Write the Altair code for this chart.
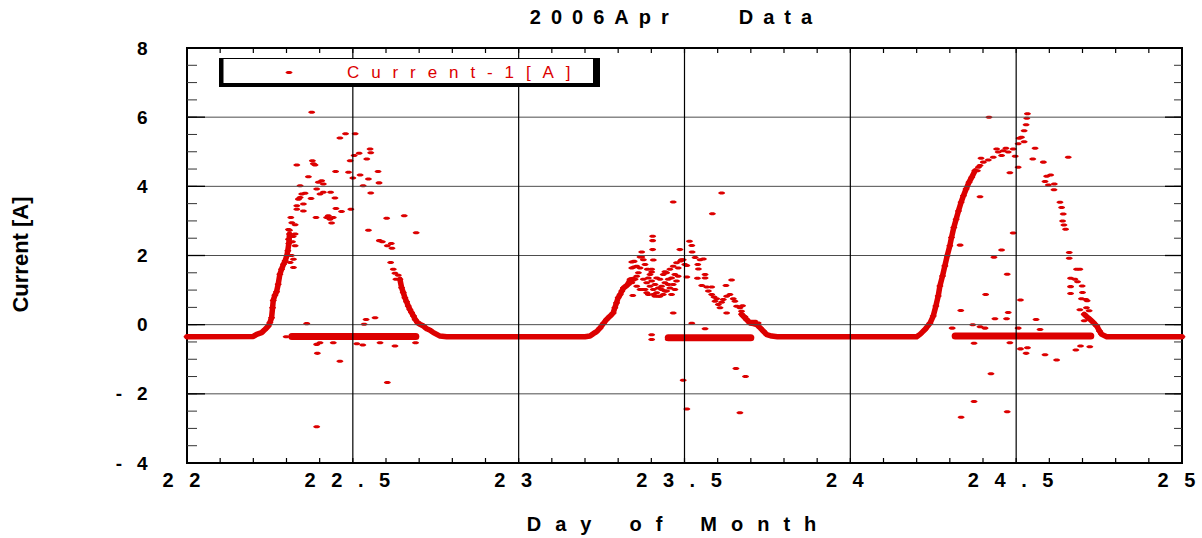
import altair as alt
import pandas as pd

RED = "#dc0000"
FONT = "Liberation Sans, Arial, sans-serif"
ELLIPSE = "M-1,0 A1,0.43 0 1,1 1,0 A1,0.43 0 1,1 -1,0 Z"

# ---------------- data ----------------
# dense, continuous parts of the record (night baseline + smooth ramps)
c1_x = [22.000, 22.200, 22.210, 22.225, 22.235, 22.245, 22.250, 22.255, 22.258, 22.260, 22.265,
        22.270, 22.275, 22.280, 22.285, 22.291, 22.296, 22.301, 22.304, 22.307, 22.309]
c1_y = [-0.35, -0.34, -0.28, -0.23, -0.14, -0.04, 0.06, 0.20, 0.49, 0.70, 0.85,
        0.95, 1.17, 1.46, 1.60, 1.75, 1.85, 1.99, 2.14, 2.35, 2.62]

c2_x = [22.642, 22.647, 22.652, 22.657, 22.662, 22.667, 22.672, 22.677, 22.683, 22.688, 22.695,
        22.703, 22.713, 22.723, 22.733, 22.743, 22.753, 22.763, 22.783, 23.200, 23.215, 23.225,
        23.235, 23.245, 23.255, 23.265, 23.275, 23.285, 23.290, 23.295, 23.300, 23.306, 23.311,
        23.316, 23.326, 23.336, 23.346]
c2_y = [1.31, 1.07, 0.93, 0.78, 0.66, 0.54, 0.44, 0.35, 0.25, 0.15, 0.06,
        0.01, -0.04, -0.12, -0.16, -0.23, -0.28, -0.33, -0.35, -0.35, -0.33, -0.26,
        -0.20, -0.10, 0.03, 0.15, 0.24, 0.34, 0.49, 0.63, 0.78, 0.87, 0.97,
        1.06, 1.13, 1.29, 1.31]

c3_x = [23.672, 23.677, 23.687, 23.697, 23.708, 23.718, 23.728, 23.738, 23.748, 23.763, 23.780,
        24.200, 24.210, 24.225, 24.240, 24.250, 24.258, 24.265, 24.270, 24.278, 24.285, 24.292,
        24.300, 24.305, 24.312, 24.319, 24.326, 24.334, 24.341, 24.349, 24.358, 24.366, 24.376]
c3_y = [0.30, 0.25, 0.15, 0.05, 0.03, 0.00, -0.09, -0.19, -0.29, -0.33, -0.35,
        -0.35, -0.28, -0.14, 0.04, 0.25, 0.54, 0.83, 1.12, 1.41, 1.70, 1.99,
        2.28, 2.52, 2.81, 3.05, 3.29, 3.54, 3.73, 3.92, 4.12, 4.26, 4.45]

c4_x = [24.705, 24.714, 24.723, 24.733, 24.743, 24.751, 24.758, 24.773, 25.000]
c4_y = [0.30, 0.22, 0.15, 0.06, -0.04, -0.18, -0.28, -0.35, -0.35]

# daytime band of readings near the night level
band_x0 = [22.316, 23.451, 24.316]
band_x1 = [22.690, 23.700, 24.725]
band_y = [-0.34, -0.38, -0.33]

# scattered readings
s22_x = [22.311, 22.321, 22.321, 22.326, 22.326, 22.326, 22.331, 22.331, 22.336, 22.341, 22.346,
         22.351, 22.351, 22.356, 22.341, 22.331, 22.366, 22.374, 22.378, 22.381, 22.386, 22.389,
         22.391, 22.396, 22.401, 22.406, 22.411, 22.411, 22.421, 22.426, 22.431, 22.436, 22.441,
         22.433, 22.446, 22.448, 22.449, 22.466, 22.461, 22.478, 22.487, 22.492, 22.494, 22.500,
         22.504, 22.507, 22.519, 22.522, 22.531, 22.542, 22.547, 22.552, 22.554, 22.554, 22.576,
         22.579, 22.547, 22.580, 22.589, 22.602, 22.604, 22.616, 22.618, 22.614, 22.622, 22.627,
         22.630, 22.637, 22.655, 22.691, 22.376, 22.306, 22.309, 22.316, 22.318, 22.315, 22.320,
         22.299, 22.391, 22.393, 22.401, 22.441, 22.512, 22.530, 22.582, 22.627, 22.689, 22.361,
         22.534, 22.540, 22.567, 22.461, 22.391, 22.604, 22.313, 22.306]
s22_y = [1.80, 1.89, 1.65, 2.28, 2.62, 2.89, 3.34, 3.44, 3.63, 3.68, 3.78,
         3.49, 3.29, 3.80, 4.02, 4.62, 4.28, 3.65, 4.74, 4.65, 4.62, 3.10,
         3.92, 4.12, 3.78, 4.16, 4.07, 3.83, 3.10, 3.15, 3.05, 2.94, 3.10,
         3.83, 3.66, 4.43, 3.36, 3.27, 5.40, 5.52, 4.41, 4.74, 3.34, 4.24,
         4.89, 5.52, 4.96, 4.33, 4.02, 4.79, 4.21, 5.08, 4.97, 3.81, 4.43,
         4.10, 2.73, 2.43, 2.40, 3.08, 2.28, 2.35, 2.21, 1.80, 1.60, 1.49,
         1.31, 1.43, 3.15, 2.66, 6.14, 2.47, 2.73, 2.95, 2.40, 2.00, 2.55,
         -0.35, -0.57, -0.83, -0.52, -0.52, -0.55, -0.59, -0.52, -0.62, -0.52, 0.03,
         0.01, 0.15, 0.20, -1.06, -2.95, -1.67, 3.10, 2.75]

s23_x = [23.404, 23.404, 23.404, 23.371, 23.371, 23.406, 23.348, 23.348, 23.341, 23.401, 23.401,
         23.441, 23.486, 23.488, 23.496, 23.515, 23.522, 23.523, 23.532, 23.557, 23.540, 23.542,
         23.507, 23.507, 23.539, 23.562, 23.562, 23.466, 23.612, 23.584, 23.466,
         23.366, 23.376, 23.366, 23.361, 23.356, 23.351, 23.341, 23.331, 23.344, 23.356, 23.341,
         23.381, 23.388, 23.396,
         23.376, 23.386, 23.396, 23.406, 23.416, 23.426, 23.436, 23.446, 23.456, 23.466, 23.476,
         23.481, 23.471, 23.461, 23.451, 23.441, 23.431, 23.421, 23.411, 23.401, 23.391, 23.381,
         23.391, 23.411, 23.431, 23.451, 23.461, 23.471, 23.426, 23.416, 23.436, 23.446, 23.456,
         23.466, 23.476, 23.481, 23.491, 23.501, 23.326, 23.336, 23.316, 23.356, 23.366, 23.376,
         23.386, 23.406, 23.421, 23.441,
         23.552, 23.567, 23.582, 23.572, 23.582, 23.589, 23.597, 23.592, 23.602, 23.612, 23.617,
         23.627, 23.637, 23.642, 23.625, 23.647, 23.652, 23.607, 23.627, 23.657, 23.667, 23.675,
         23.672, 23.682, 23.687, 23.702, 23.712, 23.722, 23.547,
         23.522, 23.562, 23.401, 23.401, 23.451,
         23.496, 23.507, 23.655, 23.684, 23.667]
s23_y = [2.56, 2.43, 2.17, 2.10, 1.96, 1.87, 1.83, 1.67, 1.64, 1.60, 1.52,
         1.53, 2.17, 1.84, 1.88, 2.41, 2.29, 2.10, 1.94, 1.90, 1.74, 1.61,
         1.71, 1.38, 1.34, 1.45, 1.35, 3.55, 3.81, 3.21, 0.34,
         1.96, 1.88, 1.64, 1.50, 1.40, 1.31, 1.21, 1.16, 0.84, 1.69, 1.81,
         1.74, 1.60, 1.45,
         1.31, 1.21, 1.11, 1.02, 0.92, 0.82, 0.87, 0.97, 1.06, 1.16, 1.26,
         1.40, 1.45, 1.35, 1.31, 1.21, 1.11, 1.06, 1.16, 1.26, 1.35, 1.02,
         0.87, 0.82, 1.02, 1.16, 0.87, 1.02, 1.31, 1.35, 1.45, 1.50, 1.60,
         1.69, 1.79, 1.64, 1.88, 1.74, 1.13, 1.31, 1.06, 1.11, 1.02, 1.02,
         0.92, 0.87, 0.82, 0.97,
         1.13, 1.09, 1.09, 0.97, 0.87, 0.80, 0.75, 0.68, 0.58, 0.65, 0.73,
         0.82, 0.87, 1.29, 1.13, 0.75, 0.68, 0.49, 0.34, 0.53, 0.49, 0.55,
         0.39, 0.23, 0.15, 0.10, 0.10, 0.05, 1.88,
         0.04, -0.12, -0.29, -0.43, -0.43,
         -1.61, -2.44, -1.27, -1.50, -2.55]

s24_x = [24.418, 24.394, 24.383, 24.391, 24.401, 24.416, 24.431, 24.441, 24.446, 24.456, 24.461,
         24.469, 24.476, 24.481, 24.491, 24.497, 24.506, 24.506, 24.509, 24.516, 24.524, 24.524,
         24.530, 24.532, 24.534, 24.557, 24.550, 24.582, 24.592, 24.604, 24.587, 24.597, 24.615,
         24.614, 24.657, 24.391, 24.632, 24.637, 24.642, 24.640, 24.644, 24.649, 24.660, 24.660,
         24.682, 24.692, 24.664, 24.677, 24.685, 24.699, 24.664, 24.664, 24.700, 24.697, 24.710,
         24.714, 24.712, 24.692, 24.720, 24.705, 24.491, 24.456, 24.433, 24.473, 24.408, 24.331,
         24.333, 24.476, 24.471, 24.436, 24.513, 24.560, 24.307, 24.369, 24.391, 24.406, 24.506,
         24.572, 24.373, 24.481, 24.513, 24.530, 24.534, 24.587, 24.622, 24.680, 24.694, 24.722,
         24.424, 24.373, 24.334, 24.473, 24.386, 24.376]
s24_y = [6.00, 4.81, 4.45, 4.60, 4.70, 4.76, 4.84, 5.08, 4.99, 4.89, 5.03,
         5.10, 4.99, 4.39, 5.08, 4.87, 4.55, 5.23, 5.39, 5.42, 5.29, 5.61,
         5.78, 5.97, 6.10, 5.10, 4.79, 4.70, 4.29, 4.33, 4.14, 4.04, 4.07,
         3.90, 4.84, 3.70, 3.54, 3.39, 3.20, 3.00, 2.88, 2.76, 2.09, 1.92,
         1.60, 1.60, 1.34, 1.31, 1.24, 1.12, 1.10, 0.90, 0.93, 0.75, 0.73,
         0.69, 0.49, 0.43, 0.40, 0.11, 2.65, 2.16, 1.95, 1.46, 0.87, 2.30,
         0.41, 0.35, 0.17, 0.17, 0.71, 0.15, -0.10, 0.00, -0.06, -0.10, -0.10,
         -0.14, -0.54, -0.52, -0.70, -0.83, -0.67, -0.87, -1.02, -0.73, -0.62, -0.64,
         -1.42, -2.22, -2.68, -2.52, 4.55, 4.45]

# axis ticks and labels
X_TICKS = [22, 22.5, 23, 23.5, 24, 24.5, 25]
X_LABELS = ["22", "22.5", "23", "23.5", "24", "24.5", "25"]
Y_TICKS = [-4, -2, 0, 2, 4, 6, 8]
Y_LABELS = ["-4", "-2", "0", "2", "4", "6", "8"]
X_GRID = [22.5, 23, 23.5, 24, 24.5]
Y_GRID = [-2, 0, 2, 4, 6]
X_MINOR = [round(22 + 0.1 * i, 1) for i in range(1, 30)]
Y_MINOR = [-4 + 0.5 * i for i in range(1, 24)]
Y_MAJOR = [-2, 0, 2, 4, 6]

TITLE = "2006Apr   Data"
X_TITLE = "Day of Month"
Y_TITLE = "Current [A]"
LEGEND = "Current-1[A]"

SEP_LABEL = "\u2002\u00a0"
SEP_XTITLE = "\u2002\u2009"
SEP_TITLE = "\u2002"
SEP_LEGEND = "\u2002\u2009"


def spaced(s, sep, blank):
    return sep.join(blank if c == " " else c for c in s)


def label_expr(vals, labels, sep):
    parts = [f"datum.value == {v} ? '{spaced(l, sep, sep)}' : " for v, l in zip(vals, labels)]
    return "".join(parts) + "''"


# ---------------- tables ----------------
curve_rows = []
for seg, (xs_, ys_) in enumerate([(c1_x, c1_y), (c2_x, c2_y), (c3_x, c3_y), (c4_x, c4_y)]):
    for i, (a, b) in enumerate(zip(xs_, ys_)):
        curve_rows.append({"x": a, "y": b, "seg": seg, "i": i})
curve_df = pd.DataFrame(curve_rows)

band_rows = []
for seg, (a, b, c) in enumerate(zip(band_x0, band_x1, band_y)):
    band_rows.append({"x": a, "y": c, "seg": seg, "i": 0})
    band_rows.append({"x": b, "y": c, "seg": seg, "i": 1})
band_df = pd.DataFrame(band_rows)

scatter_df = pd.DataFrame({"x": s22_x + s23_x + s24_x, "y": s22_y + s23_y + s24_y})

xs = alt.Scale(domain=[22, 25], nice=False, zero=False)
ys = alt.Scale(domain=[-4, 8], nice=False, zero=False)

x_axis = alt.Axis(
    values=X_TICKS, labelExpr=label_expr(X_TICKS, X_LABELS, SEP_LABEL),
    grid=False, ticks=False, tickSize=0, domain=False, labelFlush=False, labelOverlap=False,
    labelFont=FONT, labelFontSize=20, labelFontWeight="bold", labelColor="black",
    labelPadding=7, labelBaseline="top", labelOffset=-6,
    title=spaced(X_TITLE, SEP_XTITLE, "\u2002"), titleFont=FONT, titleFontSize=20,
    titleFontWeight="bold", titleColor="black", titleX=484, titleY=61,
    titleAlign="center", titleBaseline="middle",
)
y_axis = alt.Axis(
    values=Y_TICKS, labelExpr=label_expr(Y_TICKS, Y_LABELS, SEP_LABEL),
    grid=False, ticks=False, tickSize=0, domain=False, labelFlush=False, labelOverlap=False,
    labelFont=FONT, labelFontSize=19, labelFontWeight="bold", labelColor="black",
    labelPadding=40,
    title=Y_TITLE, titleFont=FONT, titleFontSize=22, titleFontWeight="bold",
    titleColor="black", titleX=-167, titleY=206, titleAngle=270,
    titleAlign="center", titleBaseline="middle",
)


def X(f="x:Q"):
    return alt.X(f, scale=xs, axis=x_axis)


def Y(f="y:Q"):
    return alt.Y(f, scale=ys, axis=y_axis)


curves = alt.Chart(curve_df).mark_line(
    color=RED, strokeWidth=5.5, strokeCap="round", strokeJoin="round"
).encode(x=X(), y=Y(), detail="seg:N", order="i:Q")
curve_pts = alt.Chart(curve_df).mark_point(
    shape=ELLIPSE, size=49, filled=True, color=RED, opacity=1, strokeWidth=0
).encode(x=X(), y=Y())

bands = alt.Chart(band_df).mark_line(
    color=RED, strokeWidth=7, strokeCap="round"
).encode(x=X(), y=Y(), detail="seg:N", order="i:Q")
scatter = alt.Chart(scatter_df).mark_point(
    shape=ELLIPSE, size=49, filled=True, color=RED, opacity=1, strokeWidth=0
).encode(x=X(), y=Y())

vgrid = alt.Chart(pd.DataFrame({"x": X_GRID})).mark_rule(color="black", strokeWidth=1.2).encode(x=X())
hgrid = alt.Chart(pd.DataFrame({"y": Y_GRID})).mark_rule(color="#4d4d4d", strokeWidth=1).encode(y=Y())

xmin_df = pd.DataFrame({"x": X_MINOR})
tick_top = alt.Chart(xmin_df).mark_rule(color="black", strokeWidth=1.2).encode(
    x=X(), y=alt.value(0), y2=alt.value(5))
tick_bot = alt.Chart(xmin_df).mark_rule(color="black", strokeWidth=1.2).encode(
    x=X(), y=alt.value(410), y2=alt.value(415))
ymin_df = pd.DataFrame({"y": Y_MINOR})
tick_left = alt.Chart(ymin_df).mark_rule(color="#333333", strokeWidth=1).encode(
    y=Y(), x=alt.value(0), x2=alt.value(10))
tick_right = alt.Chart(ymin_df).mark_rule(color="#333333", strokeWidth=1).encode(
    y=Y(), x=alt.value(987), x2=alt.value(995))
ymaj_df = pd.DataFrame({"y": Y_MAJOR})
major_left = alt.Chart(ymaj_df).mark_rule(color="black", strokeWidth=1.3).encode(
    y=Y(), x=alt.value(0), x2=alt.value(18))
major_right = alt.Chart(ymaj_df).mark_rule(color="black", strokeWidth=1.3).encode(
    y=Y(), x=alt.value(978), x2=alt.value(995))

one = pd.DataFrame({"k": [0]})
leg_shadow = alt.Chart(one).mark_rect(color="black").encode(
    x=alt.value(32), x2=alt.value(413), y=alt.value(10), y2=alt.value(39))
leg_box = alt.Chart(one).mark_rect(color="white").encode(
    x=alt.value(36.5), x2=alt.value(406), y=alt.value(11), y2=alt.value(35))
leg_mark = alt.Chart(one).mark_point(
    shape=ELLIPSE, size=49, filled=True, color=RED, opacity=1, strokeWidth=0
).encode(x=alt.value(102), y=alt.value(24.5))
leg_text = alt.Chart(one).mark_text(
    text=spaced(LEGEND, SEP_LEGEND, "\u2002"), font=FONT, fontSize=17, color=RED,
    align="left", baseline="middle"
).encode(x=alt.value(160), y=alt.value(24.5))

title = alt.Chart(one).mark_text(
    text=spaced(TITLE, SEP_TITLE, "\u2002"), font=FONT, fontSize=20, fontWeight="bold",
    color="black", align="center", baseline="middle"
).encode(x=alt.value(484), y=alt.value(-30))

chart = alt.layer(
    curves, bands, curve_pts, scatter, hgrid, vgrid,
    tick_top, tick_bot, tick_left, tick_right, major_left, major_right,
    leg_shadow, leg_box, leg_mark, leg_text, title,
).properties(
    width=995, height=415,
    autosize=alt.AutoSizeParams(type="none"),
    padding={"left": 187, "top": 48, "right": 20, "bottom": 75},
    background="white",
).configure_view(stroke="black", strokeWidth=2)

chart.save("out.html", embed_options={"renderer": "svg", "actions": False})
